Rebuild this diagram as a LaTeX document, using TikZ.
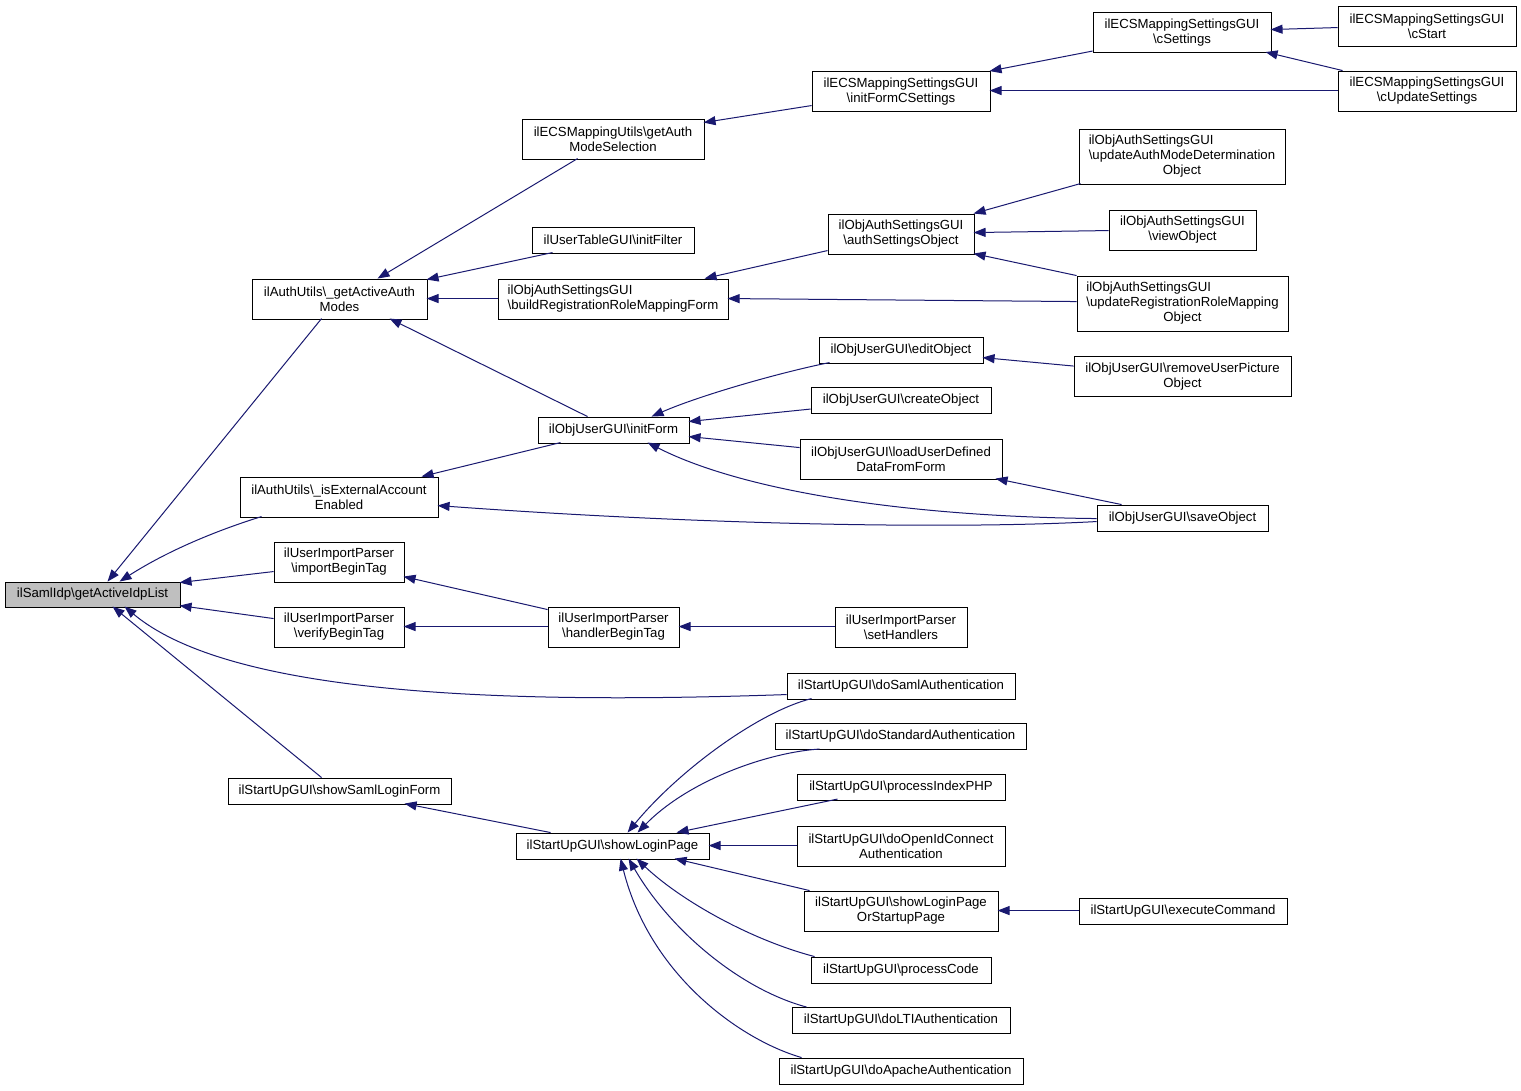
\documentclass[tikz,border=0pt]{standalone}
\usepackage{fontspec}
\setmainfont{Liberation Sans}
\usepackage{calc}
\usetikzlibrary{arrows.meta,calc}
\definecolor{edgeblue}{HTML}{191970}
\definecolor{rootgray}{HTML}{BFBFBF}
\newcommand\lpad[2]{\makebox[\widthof{#1}][l]{#2}}
\begin{document}
\begin{tikzpicture}[x=1pt,y=-1pt,
  box/.style={draw=black, line width=0.9pt, fill=white, inner sep=0pt, align=center,
    font=\fontsize{13.2pt}{15pt}\selectfont},
  sz/.style 2 args={minimum width=#1pt, minimum height=#2pt},
  edge/.style={draw=edgeblue, line width=1pt, -{Triangle[length=12pt,width=9pt]}},
]
\useasboundingbox (0,0) rectangle (1521,1090);
\fill[white] (0,0) rectangle (1521,1090);

% column 0
\node[box,fill=rootgray,sz={175}{25}] (root) at (92.5,594.5) {ilSamlIdp\textbackslash getActiveIdpList};
% column 1
\node[box,sz={175}{40}] (authModes) at (339.5,299) {ilAuthUtils\textbackslash\_getActiveAuth\\Modes};
\node[box,sz={198}{40}] (isExt) at (339,497) {ilAuthUtils\textbackslash\_isExternalAccount\\Enabled};
\node[box,sz={130}{40}] (importBT) at (339,562) {ilUserImportParser\\\textbackslash importBeginTag};
\node[box,sz={130}{40}] (verifyBT) at (339,627) {ilUserImportParser\\\textbackslash verifyBeginTag};
\node[box,sz={223}{26}] (samlForm) at (339.5,791) {ilStartUpGUI\textbackslash showSamlLoginForm};
% column 2
\node[box,sz={182}{40}] (getAuthMS) at (613,139) {ilECSMappingUtils\textbackslash getAuth\\ModeSelection};
\node[box,sz={162}{26}] (initFilter) at (613,240) {ilUserTableGUI\textbackslash initFilter};
\node[box,sz={230}{40}] (buildReg) at (613,299) {\lpad{\textbackslash buildRegistrationRoleMappingForm}{ilObjAuthSettingsGUI}\\\textbackslash buildRegistrationRoleMappingForm};
\node[box,sz={151}{26}] (initForm) at (613.5,430) {ilObjUserGUI\textbackslash initForm};
\node[box,sz={131}{40}] (handlerBT) at (613.5,627) {ilUserImportParser\\\textbackslash handlerBeginTag};
\node[box,sz={193}{26}] (loginPage) at (612.5,846) {ilStartUpGUI\textbackslash showLoginPage};
% column 3
\node[box,sz={178}{40}] (initFormC) at (901,91.5) {ilECSMappingSettingsGUI\\\textbackslash initFormCSettings};
\node[box,sz={146}{40}] (authSetObj) at (901,234) {ilObjAuthSettingsGUI\\\textbackslash authSettingsObject};
\node[box,sz={164}{26}] (editObj) at (901,350) {ilObjUserGUI\textbackslash editObject};
\node[box,sz={180}{26}] (createObj) at (901,400.5) {ilObjUserGUI\textbackslash createObject};
\node[box,sz={202}{40}] (loadUDD) at (901,459) {ilObjUserGUI\textbackslash loadUserDefined\\DataFromForm};
\node[box,sz={132}{40}] (setHandlers) at (901,627) {ilUserImportParser\\\textbackslash setHandlers};
\node[box,sz={228}{26}] (doSaml) at (901,686) {ilStartUpGUI\textbackslash doSamlAuthentication};
\node[box,sz={251}{26}] (doStd) at (900.5,736.5) {ilStartUpGUI\textbackslash doStandardAuthentication};
\node[box,sz={208}{26}] (procIdx) at (901,787.5) {ilStartUpGUI\textbackslash processIndexPHP};
\node[box,sz={208}{40}] (doOIDC) at (901,846) {ilStartUpGUI\textbackslash doOpenIdConnect\\Authentication};
\node[box,sz={194}{40}] (orStartup) at (901,911) {ilStartUpGUI\textbackslash showLoginPage\\OrStartupPage};
\node[box,sz={180}{26}] (procCode) at (901,970) {ilStartUpGUI\textbackslash processCode};
\node[box,sz={218}{26}] (doLTI) at (901,1020.5) {ilStartUpGUI\textbackslash doLTIAuthentication};
\node[box,sz={244}{26}] (doApache) at (901,1071) {ilStartUpGUI\textbackslash doApacheAuthentication};
% column 4
\node[box,sz={178}{40}] (cSettings) at (1182,32.5) {ilECSMappingSettingsGUI\\\textbackslash cSettings};
\node[box,sz={206}{55}] (updAMD) at (1182,156.5) {\lpad{\textbackslash updateAuthModeDetermination}{ilObjAuthSettingsGUI}\\\textbackslash updateAuthModeDetermination\\Object};
\node[box,sz={147}{40}] (viewObj) at (1182.5,230) {ilObjAuthSettingsGUI\\\textbackslash viewObject};
\node[box,sz={211}{55}] (updRRM) at (1182.5,303.5) {\lpad{\textbackslash updateRegistrationRoleMapping}{ilObjAuthSettingsGUI}\\\textbackslash updateRegistrationRoleMapping\\Object};
\node[box,sz={217}{40}] (removePic) at (1182.5,376.5) {ilObjUserGUI\textbackslash removeUserPicture\\Object};
\node[box,sz={171}{26}] (saveObj) at (1182.5,518) {ilObjUserGUI\textbackslash saveObject};
\node[box,sz={208}{26}] (execCmd) at (1183,911) {ilStartUpGUI\textbackslash executeCommand};
% column 5
\node[box,sz={178}{40}] (cStart) at (1427,26) {ilECSMappingSettingsGUI\\\textbackslash cStart};
\node[box,sz={178}{40}] (cUpdate) at (1427,91) {ilECSMappingSettingsGUI\\\textbackslash cUpdateSettings};

% edges into root
\draw[edge] ($(authModes.north west)+(70,40)$) -- ($(root.north west)+(103,0)$);
\draw[edge] ($(isExt.north west)+(22,40)$) .. controls +(-42,13) and +(50,-32) .. ($(root.north west)+(115,0)$);
\draw[edge] ($(importBT.north west)+(0,30)$) -- ($(root.north west)+(175,1)$);
\draw[edge] ($(verifyBT.north west)+(0,12)$) -- ($(root.north west)+(175,24)$);
\draw[edge] ($(doSaml.north west)+(0,22)$) .. controls +(-287,10) and +(105,88) .. ($(root.north west)+(120,25)$);
\draw[edge] ($(samlForm.north west)+(94,0)$) -- ($(root.north west)+(108,25)$);
% into authModes
\draw[edge] ($(getAuthMS.north west)+(56,40)$) -- ($(authModes.north west)+(126,0)$);
\draw[edge] ($(initFilter.north west)+(21,26)$) -- ($(authModes.north west)+(175,1)$);
\draw[edge] ($(buildReg.north west)+(0,20)$) -- ($(authModes.north west)+(175,20)$);
\draw[edge] ($(initForm.north west)+(50,0)$) -- ($(authModes.north west)+(138,40)$);
% column 2 targets
\draw[edge] ($(initFormC.north west)+(0,34.5)$) -- ($(getAuthMS.north west)+(182,4)$);
\draw[edge] ($(authSetObj.north west)+(0,37)$) -- ($(buildReg.north west)+(207,0)$);
\draw[edge] ($(updRRM.north west)+(0,26)$) -- ($(buildReg.north west)+(230,20)$);
% column 3/4 targets at top
\draw[edge] ($(cSettings.north west)+(0,39)$) -- ($(initFormC.north west)+(178,0)$);
\draw[edge] ($(cUpdate.north west)+(0,20)$) -- ($(initFormC.north west)+(178,19.5)$);
\draw[edge] ($(cStart.north west)+(0,22)$) -- ($(cSettings.north west)+(178,17.5)$);
\draw[edge] ($(cUpdate.north west)+(5,0)$) -- ($(cSettings.north west)+(173,40)$);
\draw[edge] ($(updAMD.north west)+(2,55)$) -- ($(authSetObj.north west)+(146,0)$);
\draw[edge] ($(viewObj.north west)+(0,21)$) -- ($(authSetObj.north west)+(146,19)$);
\draw[edge] ($(updRRM.north west)+(0,0)$) -- ($(authSetObj.north west)+(146,40)$);
% into initForm
\draw[edge] ($(editObj.north west)+(11,26)$) .. controls +(-50,10) and +(48,-21) .. ($(initForm.north west)+(114,0)$);
\draw[edge] ($(createObj.north west)+(0,22)$) -- ($(initForm.north west)+(151,5)$);
\draw[edge] ($(loadUDD.north west)+(0,9)$) -- ($(initForm.north west)+(151,20)$);
\draw[edge] ($(saveObj.north west)+(0,14)$) .. controls +(-197,-2) and +(92,47) .. ($(initForm.north west)+(110,26)$);
% into isExt
\draw[edge] ($(saveObj.north west)+(0,17)$) .. controls +(-147,8) and +(262,19) .. ($(isExt.north west)+(198,29)$);
\draw[edge] ($(initForm.north west)+(23,26)$) -- ($(isExt.north west)+(182,0)$);
\draw[edge] ($(saveObj.north west)+(25,0)$) -- ($(loadUDD.north west)+(196,40)$);
\draw[edge] ($(removePic.north west)+(0,10)$) -- ($(editObj.north west)+(164,21)$);
% import parser
\draw[edge] ($(handlerBT.north west)+(0,3)$) -- ($(importBT.north west)+(130,35)$);
\draw[edge] ($(handlerBT.north west)+(0,20)$) -- ($(verifyBT.north west)+(130,20)$);
\draw[edge] ($(setHandlers.north west)+(0,20)$) -- ($(handlerBT.north west)+(131,20)$);
% login page
\draw[edge] ($(loginPage.north west)+(35,0)$) -- ($(samlForm.north west)+(177,26)$);
\draw[edge] ($(doSaml.north west)+(25,26)$) .. controls +(-52,13) and +(52,-63) .. ($(loginPage.north west)+(112,0)$);
\draw[edge] ($(doStd.north west)+(45,26)$) .. controls +(-50,3) and +(52,-53) .. ($(loginPage.north west)+(122,0)$);
\draw[edge] ($(procIdx.north west)+(41,25)$) -- ($(loginPage.north west)+(161,0)$);
\draw[edge] ($(doOIDC.north west)+(0,20)$) -- ($(loginPage.north west)+(193,13)$);
\draw[edge] ($(orStartup.north west)+(6,0)$) -- ($(loginPage.north west)+(159,26)$);
\draw[edge] ($(execCmd.north west)+(0,13)$) -- ($(orStartup.north west)+(194,20)$);
\draw[edge] ($(procCode.north west)+(4,0)$) .. controls +(-65,-17) and +(43,41) .. ($(loginPage.north west)+(121,26)$);
\draw[edge] ($(doLTI.north west)+(15,0)$) .. controls +(-67,-18) and +(41,71) .. ($(loginPage.north west)+(113,26)$);
\draw[edge] ($(doApache.north west)+(23,0)$) .. controls +(-62,-18) and +(29,116) .. ($(loginPage.north west)+(105,26)$);
\end{tikzpicture}
\end{document}
